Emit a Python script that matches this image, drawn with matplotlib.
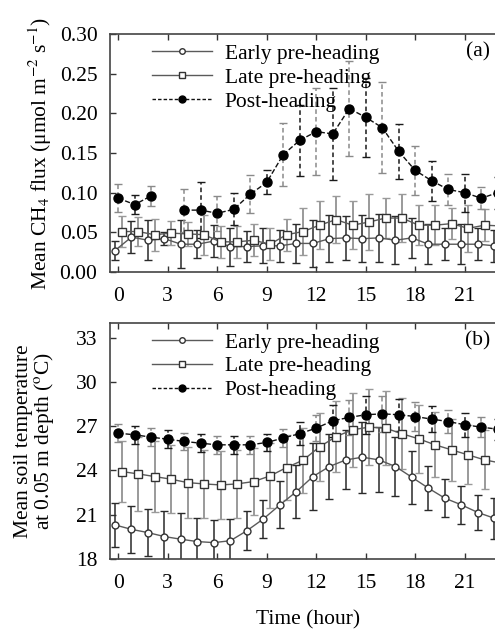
import numpy as np
import matplotlib
matplotlib.use("Agg")
import matplotlib.pyplot as plt
from matplotlib.lines import Line2D

plt.rcParams["font.family"] = ["Liberation Serif", "DejaVu Serif"]
plt.rcParams["mathtext.fontset"] = "stix"

# ---- data ----
hours = np.arange(24)
nan = np.nan

flux_early = [0.027, 0.044, 0.040, 0.042, 0.035, 0.035, 0.039, 0.032, 0.032, 0.033, 0.033, 0.036,
              0.036, 0.042, 0.043, 0.042, 0.043, 0.040, 0.043, 0.035, 0.035, 0.035, 0.035, 0.033]
flux_early_err = [0.012, 0.020, 0.025, 0.008, 0.030, 0.018, 0.020, 0.024, 0.020, 0.022, 0.020, 0.025,
                  0.030, 0.030, 0.028, 0.030, 0.030, 0.030, 0.025, 0.025, 0.020, 0.025, 0.020, 0.020]
flux_late = [0.051, 0.051, 0.047, 0.049, 0.048, 0.047, 0.038, 0.038, 0.040, 0.035, 0.047, 0.051,
             0.059, 0.066, 0.059, 0.063, 0.068, 0.068, 0.059, 0.059, 0.061, 0.055, 0.059, 0.058]
flux_late_err = [0.020, 0.018, 0.020, 0.015, 0.015, 0.025, 0.020, 0.020, 0.020, 0.020, 0.020, 0.030,
                 0.030, 0.030, 0.030, 0.035, 0.025, 0.030, 0.025, 0.025, 0.020, 0.030, 0.020, 0.020]
flux_post = [0.093, 0.085, 0.096, nan, 0.078, 0.078, 0.074, 0.079, 0.098, 0.113, 0.148, 0.166,
             0.177, 0.174, 0.206, 0.195, 0.182, 0.152, 0.128, 0.115, 0.104, 0.100, 0.093, 0.100]
flux_post_err = [0.018, 0.012, 0.013, nan, 0.027, 0.035, 0.022, 0.020, 0.024, 0.015, 0.040, 0.045,
                 0.055, 0.058, 0.060, 0.050, 0.057, 0.035, 0.031, 0.025, 0.020, 0.024, 0.014, 0.020]

temp_early = [20.31, 20.01, 19.79, 19.52, 19.34, 19.18, 19.11, 19.24, 19.92, 20.72, 21.67, 22.57,
              23.59, 24.27, 24.72, 24.90, 24.72, 24.27, 23.54, 22.80, 22.12, 21.67, 21.15, 20.76]
temp_early_err = [1.5, 1.6, 1.6, 1.7, 1.8, 1.6, 1.5, 1.5, 1.3, 1.3, 1.6, 1.8,
                  2.3, 2.2, 2.0, 2.4, 2.2, 2.0, 1.8, 1.5, 1.3, 1.3, 1.2, 1.4]
temp_late = [23.93, 23.77, 23.59, 23.41, 23.18, 23.09, 23.02, 23.09, 23.25, 23.63, 24.20, 24.70,
             25.60, 26.30, 26.76, 26.94, 26.87, 26.49, 26.15, 25.74, 25.40, 25.06, 24.72, 24.50]
temp_late_err = [2.1, 2.5, 2.4, 2.3, 2.4, 2.3, 2.3, 2.3, 2.3, 2.2, 2.2, 2.2,
                 2.3, 2.4, 2.5, 2.6, 2.5, 2.4, 2.3, 2.2, 2.1, 2.0, 2.0, 2.0]
temp_post = [26.53, 26.42, 26.26, 26.12, 25.97, 25.85, 25.74, 25.74, 25.74, 25.90, 26.20, 26.50,
             26.87, 27.37, 27.60, 27.78, 27.84, 27.78, 27.66, 27.48, 27.32, 27.10, 26.94, 26.80]
temp_post_err = [0.6, 0.6, 0.6, 0.6, 0.6, 0.6, 0.6, 0.6, 0.6, 0.6, 0.6, 0.8,
                 0.9, 1.1, 1.2, 1.3, 1.2, 1.1, 1.0, 0.9, 0.8, 0.8, 0.7, 0.7]

labels = ["Early pre-heading", "Late pre-heading", "Post-heading"]
xticks = [0, 3, 6, 9, 12, 15, 18, 21]

FS = 15.5
LINE_GREY = "#5a5a5a"


def draw_panel(ax, early, early_err, late, late_err, post, post_err):
    x_e = hours - 0.2
    x_l = hours + 0.2
    ax.errorbar(x_e, early, yerr=early_err, fmt="none", ecolor="#2a2a2a",
                elinewidth=1.1, capsize=3, capthick=1.0, zorder=2)
    ax.errorbar(x_l, late, yerr=late_err, fmt="none", ecolor="#9a9a9a",
                elinewidth=1.4, capsize=3, capthick=1.0, zorder=2)
    # post-heading bars, dashed, alternating dark / light
    post = np.asarray(post, dtype=float)
    post_err = np.asarray(post_err, dtype=float)
    for odd, col in ((1, "#1a1a1a"), (0, "#8a8a8a")):
        m = (hours % 2) == odd
        eb = ax.errorbar(hours[m], post[m], yerr=post_err[m], fmt="none", ecolor=col,
                         elinewidth=1.1, capsize=3, capthick=1.0, zorder=3)
        eb[2][0].set_linestyle((0, (3, 2)))

    ax.plot(x_e, early, "-", color=LINE_GREY, lw=1.0, marker="o", ms=5,
            mfc="white", mec="#333333", mew=1.0, zorder=4)
    ax.plot(x_l, late, "-", color=LINE_GREY, lw=1.0, marker="s", ms=6,
            mfc="white", mec="#333333", mew=1.0, zorder=4)
    ax.plot(hours, post, "--", color="#111111", lw=1.0, marker="o", ms=6.5,
            mfc="black", mec="black", zorder=5)
    ax.set_xlim(-0.5, 23.5)
    ax.set_xticks(xticks)
    ax.tick_params(direction="in", top=True, right=True, length=4, width=1,
                   labelsize=FS, color="#333333")
    ax.tick_params(axis="x", pad=11)
    ax.tick_params(axis="y", pad=9)
    for s in ax.spines.values():
        s.set_color("#444444")
        s.set_linewidth(1.2)

    handles = [
        Line2D([], [], color=LINE_GREY, lw=1.0, marker="o", ms=4, mfc="white", mec="#333333"),
        Line2D([], [], color=LINE_GREY, lw=1.0, marker="s", ms=5, mfc="white", mec="#333333"),
        Line2D([], [], color="#111111", lw=1.0, ls=(0, (2.5, 1.5)), marker="o", ms=5,
               mfc="black", mec="black"),
    ]
    ax.legend(handles=handles, labels=labels, loc="upper left", bbox_to_anchor=(0.105, 0.96),
              frameon=False, fontsize=FS, handlelength=2.8, handletextpad=0.6,
              labelspacing=0.18, borderpad=0, borderaxespad=0, numpoints=1)


fig = plt.figure(figsize=(4.95, 6.29), dpi=100)
ax1 = fig.add_axes([0.2222, 0.5676, 0.80, 0.3783])
ax2 = fig.add_axes([0.2222, 0.1113, 0.80, 0.3752])

draw_panel(ax1, flux_early, flux_early_err, flux_late, flux_late_err, flux_post, flux_post_err)
ax1.set_ylim(0, 0.30)
ax1.set_yticks([0.00, 0.05, 0.10, 0.15, 0.20, 0.25, 0.30])
ax1.set_yticklabels(["0.00", "0.05", "0.10", "0.15", "0.20", "0.25", "0.30"])
ax1.set_ylabel("Mean CH$_4$ flux (μmol m$^{-2}$ s$^{-1}$)", fontsize=FS, labelpad=4)
ax1.text(0.96, 0.925, "(a)", transform=ax1.transAxes, fontsize=FS, ha="right", va="center")

draw_panel(ax2, temp_early, temp_early_err, temp_late, temp_late_err, temp_post, temp_post_err)
ax2.set_ylim(18, 34)
ax2.set_yticks([18, 21, 24, 27, 30, 33])
ax2.set_ylabel("Mean soil temperature\nat 0.05 m depth ($^{\\rm o}$C)", fontsize=FS,
               labelpad=14, linespacing=0.95)
ax2.set_xlabel("Time (hour)", fontsize=FS, labelpad=12)
ax2.text(0.96, 0.925, "(b)", transform=ax2.transAxes, fontsize=FS, ha="right", va="center")

fig.savefig("out.png", dpi=100)
